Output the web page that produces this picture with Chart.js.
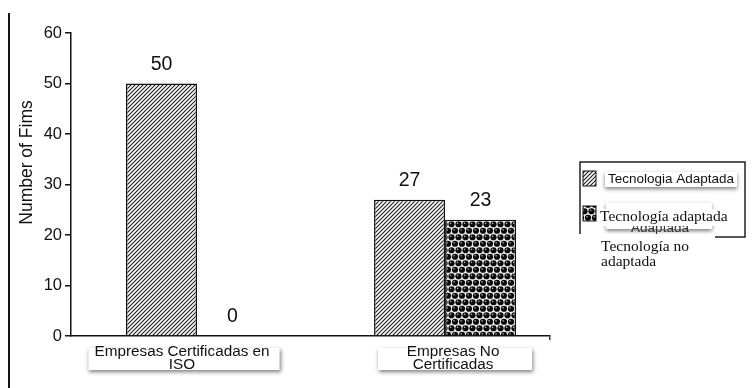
<!DOCTYPE html>
<html>
<head>
<meta charset="utf-8">
<script src="https://cdn.jsdelivr.net/npm/chart.js@4/dist/chart.umd.min.js"></script>
<style>
  html, body { margin: 0; padding: 0; background: #fff; }
  #wrap { position: relative; width: 755px; height: 388px; overflow: hidden; }
  #rule { position: absolute; left: 8px; top: 13px; width: 2px; height: 380px; background: #151515; }
  canvas { position: absolute; left: 0; top: 0; }
</style>
</head>
<body>
<div id="wrap">
  <div id="rule"></div>
  <canvas id="c" width="755" height="388"></canvas>
</div>
<script>
// Firms grouped by certification status, split by technology adoption
const categories = [['Empresas Certificadas en', 'ISO'], ['Empresas No', 'Certificadas']];
const adaptada = [50, 27];
const noAdaptada = [0, 23];
const yTicks = [0, 10, 20, 30, 40, 50, 60];
const seriesNames = ['Tecnologia Adaptada', 'Tecnologia No Adaptada'];
const overlayNames = ['Tecnología adaptada', ['Tecnología no', 'adaptada']];
const yTitle = 'Number of Fims';

const SANS = '"Liberation Sans", Arial, Helvetica, sans-serif';
const SERIF = '"Liberation Serif", "Times New Roman", serif';
const INK = '#111';
// caption boxes sit slightly off their group centres
const CAPTION_NUDGE = [-13, 10];

// Diagonal hatch fill
function hatchPattern() {
  const s = 4;
  const c = document.createElement('canvas');
  c.width = s; c.height = s;
  const g = c.getContext('2d');
  g.fillStyle = '#fff';
  g.fillRect(0, 0, s, s);
  g.strokeStyle = '#262626';
  g.lineWidth = 1.2;
  g.beginPath();
  g.moveTo(-1, s + 1); g.lineTo(s + 1, -1);
  g.moveTo(-1, 1); g.lineTo(1, -1);
  g.moveTo(s - 1, s + 1); g.lineTo(s + 1, s - 1);
  g.stroke();
  return g.createPattern(c, 'repeat');
}

// Staggered dot fill
function dotPattern() {
  const w = 7, h = 13;
  const c = document.createElement('canvas');
  c.width = w; c.height = h;
  const g = c.getContext('2d');
  g.fillStyle = '#eeeeee';
  g.fillRect(0, 0, w, h);
  const dots = [[3.5, 3.25], [0, 9.75], [7, 9.75]];
  dots.forEach(([x, y]) => {
    g.fillStyle = '#0a0a0a';
    g.beginPath(); g.arc(x, y, 3.1, 0, Math.PI * 2); g.fill();
    g.fillStyle = '#b5b5b5';
    g.beginPath(); g.arc(x - 0.9, y - 0.9, 0.8, 0, Math.PI * 2); g.fill();
  });
  return g.createPattern(c, 'repeat');
}

const hatch = hatchPattern();
const dots = dotPattern();

// Value labels above each bar
const valueLabels = {
  id: 'valueLabels',
  afterDatasetsDraw(chart) {
    const ctx = chart.ctx;
    ctx.save();
    ctx.font = '19.5px ' + SANS;
    ctx.fillStyle = INK;
    ctx.textAlign = 'center';
    ctx.textBaseline = 'middle';
    chart.data.datasets.forEach((ds, di) => {
      chart.getDatasetMeta(di).data.forEach((el, i) => {
        ctx.fillText(String(ds.data[i].y), el.x, el.y - 19);
      });
    });
    ctx.restore();
  }
};

// Boxed category captions beneath the axis
const categoryBoxes = {
  id: 'categoryBoxes',
  afterDraw(chart) {
    const ctx = chart.ctx;
    const xs = chart.scales.x;
    const base = chart.chartArea.bottom;
    ctx.save();
    ctx.font = '15.3px ' + SANS;
    categories.forEach((lines, i) => {
      const cx = xs.getPixelForValue(i) + CAPTION_NUDGE[i];
      const tw = Math.max(...lines.map(l => ctx.measureText(l).width));
      const bw = Math.max(tw + 16, 154);
      ctx.save();
      ctx.shadowColor = 'rgba(0,0,0,0.5)';
      ctx.shadowBlur = 4;
      ctx.shadowOffsetX = 1;
      ctx.shadowOffsetY = 2;
      ctx.fillStyle = '#fff';
      ctx.fillRect(cx - bw / 2, base + 12, bw, 22);
      ctx.restore();
      ctx.fillStyle = INK;
      ctx.textAlign = 'center';
      ctx.textBaseline = 'middle';
      lines.forEach((l, k) => ctx.fillText(l, cx - 2, base + 16 + k * 13));
    });
    ctx.restore();
  }
};

// Rotated axis caption
const axisCaption = {
  id: 'axisCaption',
  afterDraw(chart) {
    const ctx = chart.ctx;
    const a = chart.chartArea;
    ctx.save();
    ctx.translate(27, (a.top + a.bottom) / 2 - 22);
    ctx.rotate(-Math.PI / 2);
    ctx.font = '17.5px ' + SANS;
    ctx.fillStyle = INK;
    ctx.textAlign = 'center';
    ctx.textBaseline = 'middle';
    ctx.fillText(yTitle, 0, 0);
    ctx.restore();
  }
};

// Key panel on the right
const keyPanel = {
  id: 'keyPanel',
  afterDraw(chart) {
    const ctx = chart.ctx;
    const fills = chart.data.datasets.map(d => d.backgroundColor);
    ctx.save();

    // frame
    ctx.strokeStyle = '#222';
    ctx.lineWidth = 1.5;
    ctx.strokeRect(580, 162, 165, 75);

    // swatches
    [[171, fills[0]], [206, fills[1]]].forEach(([y, f]) => {
      ctx.fillStyle = f;
      ctx.fillRect(583, y, 13, 15);
      ctx.lineWidth = 1;
      ctx.strokeStyle = '#111';
      ctx.strokeRect(583, y, 13, 15);
    });

    // shadowed label plates
    ctx.save();
    ctx.shadowColor = 'rgba(0,0,0,0.5)';
    ctx.shadowBlur = 4;
    ctx.shadowOffsetY = 2;
    ctx.fillStyle = '#fff';
    ctx.fillRect(605, 172, 132, 15);
    ctx.fillRect(606, 203, 106, 26);
    ctx.restore();

    ctx.font = '13.5px ' + SANS;
    ctx.fillStyle = INK;
    ctx.textBaseline = 'middle';
    ctx.textAlign = 'left';
    ctx.fillText(seriesNames[0], 608, 179.5);

    // second entry: original label, mostly covered by the overlay text
    ctx.fillStyle = '#333';
    ctx.textAlign = 'center';
    ctx.fillText('Tecnologia No', 660, 214);
    ctx.fillText('Adaptada', 660, 228);
    ctx.fillStyle = '#fff';
    ctx.fillRect(598, 209, 138, 17);

    ctx.font = '15.5px ' + SERIF;
    ctx.fillStyle = INK;
    ctx.textAlign = 'left';
    ctx.textBaseline = 'alphabetic';
    ctx.fillText(overlayNames[0], 600, 221);

    // caption block below the frame
    ctx.fillStyle = '#fff';
    ctx.fillRect(578, 234, 137, 40);
    ctx.fillStyle = INK;
    overlayNames[1].forEach((l, k) => ctx.fillText(l, 601, 251 + k * 15));
    ctx.restore();
  }
};

new Chart(document.getElementById('c'), {
  type: 'bar',
  data: {
    datasets: [
      {
        label: seriesNames[0],
        data: adaptada.map((v, i) => ({ x: i, y: v })),
        backgroundColor: hatch,
        borderColor: '#111',
        borderWidth: 1.5
      },
      {
        label: seriesNames[1],
        data: noAdaptada.map((v, i) => ({ x: i, y: v })),
        backgroundColor: dots,
        borderColor: '#111',
        borderWidth: 1.5
      }
    ]
  },
  options: {
    responsive: false,
    animation: false,
    devicePixelRatio: 1,
    categoryPercentage: 0.5726,
    barPercentage: 1,
    layout: { padding: { left: 0, top: 33, right: 205, bottom: 0 } },
    plugins: {
      legend: { display: false },
      tooltip: { enabled: false }
    },
    scales: {
      x: {
        type: 'linear',
        offset: false,
        min: -0.508,
        max: 1.423,
        afterBuildTicks(s) { s.ticks = [{ value: s.max }]; },
        ticks: { display: false },
        grid: { offset: false, drawOnChartArea: false, tickLength: 4, color: '#333', lineWidth: 1.5 },
        border: { color: '#111', width: 1.5 },
        afterFit(s) { s.height = 52; }
      },
      y: {
        min: 0,
        max: 60,
        afterBuildTicks(s) { s.ticks = yTicks.map(v => ({ value: v })); },
        ticks: { color: INK, font: { family: SANS, size: 16.5 }, padding: 3 },
        grid: { drawOnChartArea: false, tickLength: 6, color: '#111', lineWidth: 1.5 },
        border: { color: '#111', width: 1.5 },
        afterFit(s) { s.width = 71; }
      }
    }
  },
  plugins: [valueLabels, categoryBoxes, axisCaption, keyPanel]
});
</script>
</body>
</html>
